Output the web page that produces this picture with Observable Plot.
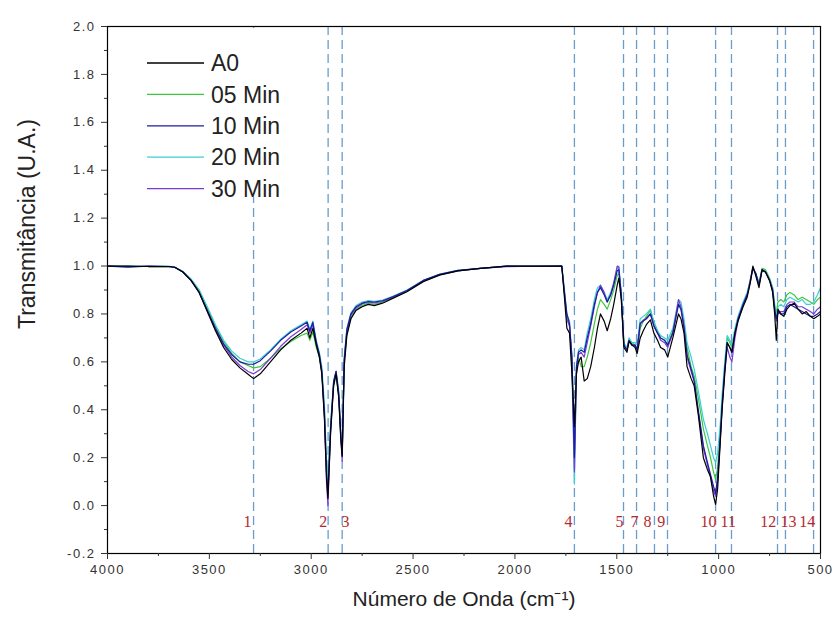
<!DOCTYPE html>
<html>
<head>
<meta charset="utf-8">
<script src="https://cdn.jsdelivr.net/npm/d3@7"></script>
<script src="https://cdn.jsdelivr.net/npm/@observablehq/plot@0.6"></script>
<style>
  body { margin: 0; background: #fff; }
  #chart svg { display: block; }
  g[aria-label="x-axis tick label"] text, g[aria-label="y-axis tick label"] text { letter-spacing: 1.5px; }
</style>
</head>
<body>
<div id="chart"></div>
<script>
const seriesNames = ["A0", "05 Min", "10 Min", "20 Min", "30 Min"];
const seriesColors = ["#000000", "#3cc83c", "#1c1ca0", "#3ccfd2", "#7b3ad6"];

const wavenumber = [4000,3900,3800,3700,3670,3630,3590,3550,3510,3470,
3430,3390,3350,3310,3283,3250,3200,3150,3100,3050,
3020,3007,2992,2975,2960,2948,2935,2925,2918,2905,
2890,2878,2865,2855,2848,2838,2825,2805,2780,2750,
2720,2690,2650,2600,2530,2450,2370,2280,2170,2040,
1900,1770,1758,1745,1732,1720,1708,1698,1688,1675,
1660,1645,1628,1610,1595,1580,1562,1547,1530,1515,
1498,1490,1478,1465,1450,1440,1425,1410,1400,1385,
1370,1355,1335,1318,1300,1285,1265,1250,1225,1197,
1185,1170,1155,1135,1120,1100,1075,1055,1040,1025,
1015,1005,993,983,970,958,945,935,920,905,
880,860,845,832,818,802,787,770,750,735,
725,717,709,695,680,665,650,630,610,590,
570,550,533,515,500];

const tA0 = [1.0,1.0,0.998,0.998,0.995,0.975,0.94,0.89,0.81,0.73,
0.66,0.61,0.575,0.548,0.53,0.55,0.60,0.65,0.69,0.72,
0.74,0.70,0.74,0.67,0.62,0.55,0.36,0.12,0.03,0.30,
0.50,0.55,0.45,0.28,0.205,0.58,0.71,0.78,0.815,0.83,
0.84,0.835,0.845,0.865,0.893,0.935,0.962,0.98,0.99,1.0,
1.0,1.0,0.88,0.74,0.72,0.55,0.33,0.55,0.60,0.62,
0.52,0.53,0.58,0.66,0.74,0.80,0.77,0.73,0.78,0.84,
0.92,0.95,0.86,0.66,0.64,0.685,0.67,0.66,0.635,0.70,
0.73,0.755,0.775,0.72,0.69,0.66,0.65,0.62,0.70,0.80,
0.78,0.72,0.58,0.53,0.50,0.38,0.20,0.15,0.12,0.04,
0.005,0.07,0.25,0.40,0.55,0.68,0.66,0.64,0.72,0.77,
0.83,0.87,0.93,1.0,0.96,0.91,0.985,0.975,0.94,0.89,
0.80,0.69,0.82,0.80,0.79,0.82,0.835,0.845,0.82,0.80,
0.81,0.79,0.78,0.79,0.80];

const t05 = [1.0,1.0,0.998,0.998,0.995,0.978,0.945,0.90,0.825,0.75,
0.685,0.635,0.60,0.585,0.575,0.58,0.615,0.655,0.685,0.71,
0.72,0.69,0.725,0.66,0.62,0.56,0.40,0.18,0.10,0.33,
0.50,0.55,0.46,0.30,0.22,0.60,0.72,0.785,0.82,0.835,
0.845,0.84,0.85,0.868,0.895,0.937,0.964,0.98,0.99,1.0,
1.0,1.0,0.90,0.78,0.75,0.62,0.22,0.55,0.62,0.58,
0.58,0.62,0.68,0.76,0.82,0.86,0.84,0.82,0.86,0.90,
0.96,0.97,0.88,0.67,0.65,0.69,0.68,0.67,0.65,0.74,
0.77,0.79,0.815,0.76,0.73,0.70,0.69,0.67,0.73,0.84,
0.82,0.76,0.66,0.58,0.54,0.45,0.32,0.25,0.20,0.14,
0.11,0.16,0.30,0.43,0.58,0.70,0.68,0.66,0.73,0.78,
0.84,0.88,0.94,0.99,0.97,0.93,0.99,0.985,0.95,0.91,
0.84,0.80,0.85,0.86,0.85,0.88,0.89,0.88,0.86,0.87,
0.86,0.85,0.84,0.86,0.87];

const t10 = [1.0,0.995,1.0,0.998,0.995,0.975,0.94,0.89,0.815,0.74,
0.675,0.63,0.60,0.59,0.59,0.605,0.645,0.69,0.725,0.75,
0.765,0.73,0.765,0.68,0.63,0.56,0.38,0.14,0.05,0.32,
0.52,0.56,0.47,0.30,0.21,0.61,0.735,0.80,0.83,0.845,
0.852,0.85,0.855,0.872,0.898,0.94,0.965,0.982,0.99,1.0,
0.998,1.0,0.90,0.80,0.76,0.62,0.20,0.58,0.64,0.65,
0.64,0.70,0.76,0.84,0.89,0.91,0.88,0.85,0.88,0.92,
0.98,0.985,0.88,0.67,0.65,0.69,0.67,0.67,0.65,0.76,
0.77,0.78,0.80,0.75,0.72,0.70,0.69,0.67,0.72,0.84,
0.82,0.74,0.63,0.57,0.52,0.40,0.25,0.18,0.13,0.08,
0.05,0.12,0.27,0.42,0.57,0.68,0.66,0.64,0.72,0.78,
0.84,0.88,0.93,0.99,0.97,0.92,0.98,0.975,0.94,0.90,
0.82,0.78,0.81,0.80,0.80,0.83,0.84,0.83,0.82,0.81,
0.80,0.79,0.79,0.80,0.81];

const t20 = [1.0,1.0,0.998,1.0,0.995,0.977,0.945,0.90,0.83,0.755,
0.69,0.645,0.615,0.60,0.60,0.612,0.65,0.695,0.73,0.755,
0.77,0.735,0.77,0.69,0.64,0.58,0.42,0.18,0.09,0.34,
0.52,0.56,0.48,0.31,0.22,0.62,0.74,0.805,0.835,0.85,
0.856,0.853,0.858,0.874,0.90,0.94,0.966,0.982,0.99,1.0,
1.0,1.0,0.91,0.80,0.77,0.55,0.09,0.58,0.65,0.66,
0.65,0.72,0.78,0.86,0.91,0.92,0.89,0.86,0.89,0.93,
0.99,1.0,0.89,0.68,0.66,0.70,0.68,0.68,0.67,0.78,
0.79,0.80,0.82,0.77,0.73,0.71,0.70,0.69,0.74,0.86,
0.85,0.78,0.68,0.62,0.57,0.48,0.36,0.30,0.25,0.20,
0.18,0.22,0.33,0.46,0.60,0.71,0.69,0.67,0.74,0.79,
0.85,0.89,0.94,0.99,0.97,0.93,0.985,0.98,0.945,0.91,
0.83,0.79,0.83,0.84,0.83,0.86,0.87,0.86,0.85,0.86,
0.84,0.84,0.85,0.88,0.91];

const t30 = [1.0,0.997,1.0,0.998,0.995,0.975,0.94,0.89,0.81,0.735,
0.67,0.62,0.585,0.56,0.55,0.568,0.615,0.665,0.705,0.735,
0.755,0.72,0.755,0.68,0.63,0.56,0.37,0.10,0.0,0.31,
0.51,0.56,0.46,0.29,0.185,0.60,0.725,0.795,0.825,0.842,
0.85,0.846,0.852,0.87,0.896,0.938,0.964,0.98,0.99,0.997,
1.0,1.0,0.89,0.78,0.75,0.60,0.14,0.57,0.63,0.64,
0.62,0.68,0.75,0.83,0.89,0.92,0.89,0.85,0.88,0.93,
1.0,0.995,0.88,0.66,0.65,0.69,0.67,0.67,0.65,0.76,
0.775,0.78,0.80,0.75,0.72,0.69,0.68,0.66,0.72,0.86,
0.83,0.75,0.62,0.56,0.52,0.39,0.24,0.17,0.12,0.06,
0.04,0.10,0.26,0.41,0.56,0.66,0.62,0.60,0.70,0.77,
0.84,0.88,0.94,0.995,0.97,0.92,0.985,0.975,0.94,0.90,
0.82,0.77,0.80,0.81,0.81,0.84,0.85,0.85,0.83,0.83,
0.82,0.81,0.80,0.82,0.83];

const peakWn = [3283, 2917, 2848, 1708, 1467, 1403, 1315, 1251, 1015, 937, 711, 672, 534];
const peakLabels = ["1", "2", "3", "4", "5", "7", "8", "9", "10", "11", "12", "13", "14"];
const peakLabelWn = [3313, 2941, 2832, 1737, 1487, 1413, 1349, 1282, 1050, 953, 757, 657, 565];
const peakLabelY = -0.07;

const xTicks = [4000, 3500, 3000, 2500, 2000, 1500, 1000, 500];
const xMinorTicks = [3750, 3250, 2750, 2250, 1750, 1250, 750];
const yTicks = [-0.2, 0.0, 0.2, 0.4, 0.6, 0.8, 1.0, 1.2, 1.4, 1.6, 1.8, 2.0];
const yMinorTicks = [-0.1, 0.1, 0.3, 0.5, 0.7, 0.9, 1.1, 1.3, 1.5, 1.7, 1.9];

const xTitle = "Número de Onda (cm⁻¹)";
const yTitle = "Transmitância (U.A.)";

const seriesValues = [tA0, t05, t10, t20, t30];
const drawOrder = [1, 3, 4, 2, 0];
const data = [];
for (const si of drawOrder) {
  seriesValues[si].forEach((v, i) => data.push({series: seriesNames[si], wn: wavenumber[i], t: v}));
}
const labelData = peakLabels.map((l, i) => ({label: l, wn: peakLabelWn[i]}));

const chart = Plot.plot({
  width: 837,
  height: 637,
  marginLeft: 107,
  marginRight: 17,
  marginTop: 26,
  marginBottom: 84,
  style: {fontFamily: "Arial, 'Liberation Sans', sans-serif", fontSize: "13px", color: "#333"},
  x: {domain: [4000, 500]},
  y: {domain: [-0.2, 2.0]},
  color: {domain: seriesNames, range: seriesColors},
  marks: [
    Plot.ruleX(peakWn, {stroke: "#6a9ccc", strokeDasharray: "9,5", strokeWidth: 1.3}),
    Plot.line(data, {x: "wn", y: "t", z: "series", stroke: "series", strokeWidth: 1.2}),
    Plot.text(labelData, {x: "wn", y: () => peakLabelY, text: "label", fill: "#b5292f",
      fontFamily: "'Times New Roman', 'Liberation Serif', serif", fontSize: 16}),
    Plot.frame({stroke: "#000", strokeWidth: 1.2}),
    Plot.axisX({ticks: xTicks, tickSize: 6, tickPadding: 5, tickFormat: d => String(d), label: null, fontSize: 13}),
    Plot.axisX({ticks: xMinorTicks, tickSize: 3, tickFormat: () => "", label: null}),
    Plot.axisY({ticks: yTicks, tickSize: 6, tickPadding: 6, tickFormat: d => d.toFixed(1), label: null, fontSize: 13}),
    Plot.axisY({ticks: yMinorTicks, tickSize: 3, tickFormat: () => "", label: null}),
    Plot.text([xTitle], {frameAnchor: "bottom", dy: 52, fontSize: 21, fill: "#222"}),
    Plot.text([yTitle], {frameAnchor: "left", textAnchor: "middle", dx: -80, dy: -66, rotate: -90, fontSize: 23, fill: "#222"})
  ]
});

document.getElementById("chart").appendChild(chart);

// Legend inside the plot area (top-left), with white background
const svg = d3.select(chart);
const lg = svg.append("g").attr("class", "legend").attr("text-anchor", "start");
lg.append("rect").attr("x", 112).attr("y", 28).attr("width", 190).attr("height", 169).attr("fill", "#fff");
seriesNames.forEach((name, i) => {
  const cy = 63 + i * 31.4;
  lg.append("line").attr("x1", 147).attr("x2", 204).attr("y1", cy).attr("y2", cy)
    .attr("stroke", seriesColors[i]).attr("stroke-width", 1.3);
  lg.append("text").attr("x", 211).attr("y", cy).attr("dy", "0.36em")
    .attr("text-anchor", "start")
    .attr("font-family", "Arial, 'Liberation Sans', sans-serif").attr("font-size", 23)
    .attr("fill", "#222").text(name);
});
</script>
</body>
</html>
